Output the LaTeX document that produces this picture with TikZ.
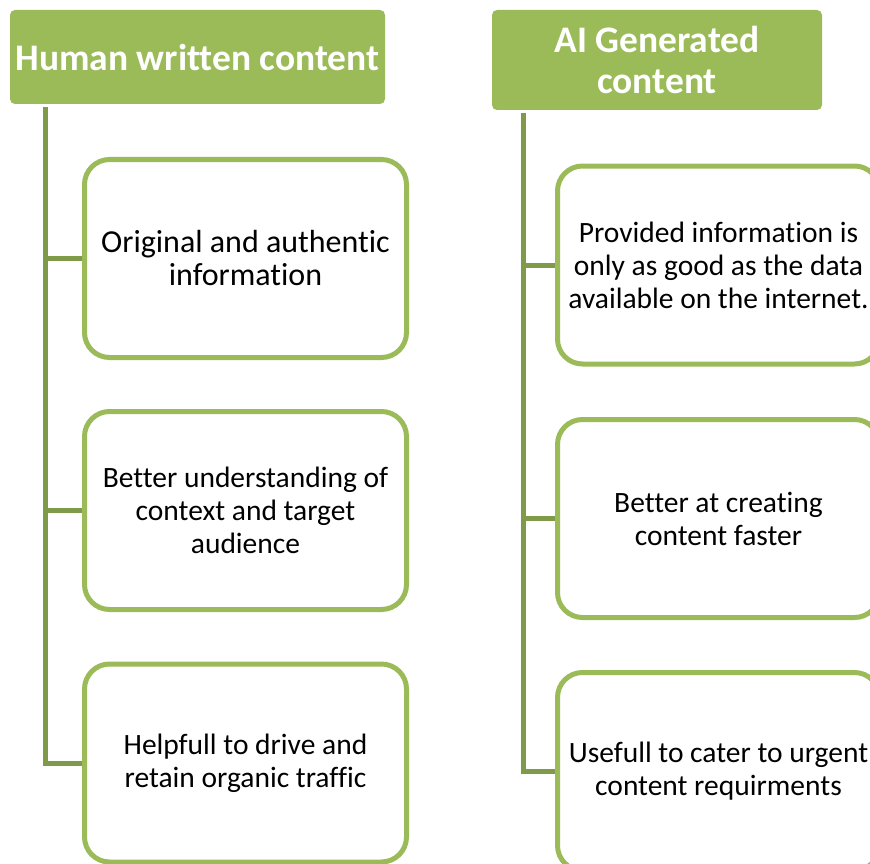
\documentclass[tikz,border=0pt]{standalone}
\usepackage{fontspec}
\setmainfont{Carlito}[Ligatures=NoCommon]
\usepackage{tikz}
\usetikzlibrary{positioning, calc}
\definecolor{leafgreen}{HTML}{9BBB59}
\definecolor{stemgreen}{HTML}{7F9A48}

\begin{document}
\begin{tikzpicture}[x=1pt, y=-1pt,
  header/.style={fill=leafgreen, rounded corners=5pt, text=white, align=center, inner sep=0pt, font=\fontsize{37.5}{41}\selectfont\bfseries},
  itembox/.style={draw=leafgreen, line width=5pt, fill=white, rounded corners=25pt, minimum width=322pt, minimum height=198pt, inner sep=0pt, align=center, font=\fontsize{29.5}{33}\selectfont},
  stem/.style={draw=stemgreen, line width=5pt}]
\useasboundingbox (0,0) rectangle (870,864);
\clip (0,0) rectangle (870,864);

\node[header, minimum width=375pt, minimum height=94pt] (hum) at (197.5,57) {Human written content};
\node[header, minimum width=330pt, minimum height=100pt] (ai) at (657,60) {AI Generated\\content};

\node[itembox, font=\fontsize{32}{33}\selectfont] (hum1) at (245.5,258.5) {Original and authentic\\information};
\node[itembox] (hum2) at (245.5,510.5) {Better understanding of\\context and target\\audience};
\node[itembox] (hum3) at (245.5,763) {Helpfull to drive and\\retain organic traffic};

\node[itembox] (ai1) at (718.5,265) {Provided information is\\only as good as the data\\available on the internet.};
\node[itembox] (ai2) at (718.5,518.5) {Better at creating\\content faster};
\node[itembox] (ai3) at (718.5,771.5) {Usefull to cater to urgent\\content requirments};

\coordinate (humroot) at (45.5,107);
\coordinate (airoot) at (523.5,113);
\draw[stem] (humroot) |- (hum3.west);
\draw[stem] (airoot) |- (ai3.west);
\foreach \b in {hum1,hum2} \draw[stem] (humroot |- \b.west) -- (\b.west);
\foreach \b in {ai1,ai2} \draw[stem] (airoot |- \b.west) -- (\b.west);

\end{tikzpicture}
\end{document}
